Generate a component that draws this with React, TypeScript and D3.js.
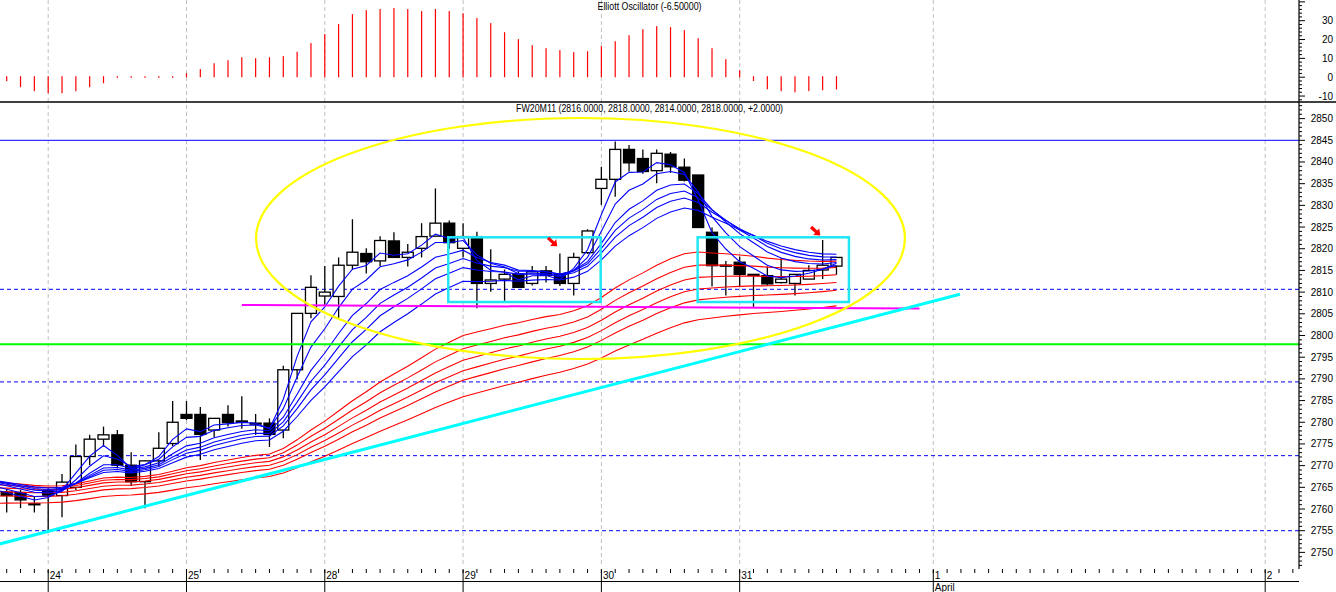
import React from 'react';
import * as d3 from 'd3';

const W = 1336;
const H = 592;

// ---------- data ----------
const opens = [2763.9, 2763.8, 2761.0, 2764.2, 2763.1, 2765.0, 2772.1, 2776.1, 2777.1, 2770.1,
  2766.3, 2771.1, 2775.1, 2781.8, 2781.8, 2778.2, 2781.8, 2780.0, 2779.8, 2779.8,
  2778.2, 2792.1, 2805.1, 2809.1, 2809.0, 2816.2, 2818.9, 2817.2, 2821.8, 2818.0,
  2820.1, 2822.9, 2825.9, 2820.1, 2822.8, 2812.0, 2813.0, 2814.2, 2812.0, 2814.9,
  2814.2, 2812.0, 2819.1, 2833.9, 2836.0, 2842.9, 2840.8, 2838.0, 2841.8, 2838.8,
  2837.0, 2823.8, 2816.0, 2816.9, 2814.1, 2813.8, 2812.2, 2812.0, 2813.0, 2815.1, 2816.0];
const highs = [2764.6, 2764.4, 2762.9, 2764.8, 2768.1, 2774.9, 2777.1, 2779.0, 2778.2, 2773.1,
  2771.1, 2777.7, 2784.9, 2784.9, 2783.5, 2780.9, 2783.9, 2786.0, 2781.9, 2780.9,
  2793.0, 2805.1, 2813.9, 2816.0, 2818.0, 2826.8, 2820.1, 2822.9, 2823.8, 2821.1,
  2825.9, 2833.9, 2826.5, 2825.9, 2823.9, 2819.9, 2815.2, 2814.8, 2816.0, 2816.0,
  2818.9, 2819.1, 2824.5, 2838.9, 2844.7, 2843.9, 2842.9, 2842.9, 2842.3, 2840.8,
  2837.0, 2824.9, 2817.2, 2818.2, 2814.1, 2815.9, 2817.8, 2814.1, 2816.2, 2822.0, 2818.0];
const lows = [2759.2, 2760.2, 2759.2, 2755.0, 2758.1, 2764.4, 2770.1, 2774.4, 2769.4, 2765.3,
  2760.2, 2769.8, 2774.5, 2780.5, 2771.3, 2776.6, 2779.0, 2778.5, 2777.1, 2774.3,
  2776.3, 2789.9, 2804.0, 2806.8, 2804.0, 2815.1, 2814.3, 2816.0, 2818.0, 2815.9,
  2818.0, 2822.9, 2820.0, 2818.0, 2806.3, 2810.1, 2808.0, 2811.1, 2811.5, 2812.2,
  2811.4, 2809.2, 2818.8, 2830.1, 2832.0, 2837.8, 2837.3, 2835.1, 2837.5, 2835.5,
  2824.9, 2811.3, 2809.2, 2811.3, 2806.6, 2811.5, 2812.0, 2809.2, 2813.0, 2813.0, 2814.0];
const closes = [2763.1, 2762.1, 2761.2, 2763.2, 2766.2, 2772.1, 2776.1, 2777.1, 2770.1, 2766.3,
  2771.1, 2774.0, 2780.0, 2780.9, 2777.2, 2780.9, 2779.9, 2780.3, 2779.6, 2777.2,
  2792.1, 2805.1, 2811.1, 2810.0, 2816.2, 2819.2, 2817.0, 2821.9, 2818.0, 2819.2,
  2822.8, 2825.9, 2821.4, 2822.8, 2812.0, 2812.8, 2814.1, 2811.1, 2814.7, 2813.9,
  2812.0, 2818.0, 2824.1, 2836.0, 2842.9, 2839.8, 2837.8, 2842.0, 2838.9, 2835.8,
  2824.9, 2816.1, 2816.2, 2814.1, 2814.0, 2811.9, 2813.0, 2814.1, 2815.0, 2816.2, 2818.0];

const oscValues = [-2.1, -5.3, -7.4, -8.5, -8.5, -7.4, -5.3, -3.2, -0.3, -0.3,
  -0.3, -0.3, -0.3, 2.1, 4.3, 7.4, 9.0, 10.6, 10.1, 10.6,
  11.2, 13.5, 18.1, 22.9, 28.2, 33.5, 35.6, 36.2, 36.7, 36.2,
  35.1, 36.2, 35.1, 34.0, 31.4, 28.7, 23.9, 20.2, 17.0, 15.4,
  14.4, 13.3, 13.8, 16.5, 19.1, 22.3, 25.5, 27.1, 26.6, 25.0,
  20.7, 15.4, 9.6, 3.7, -2.0, -6.4, -7.4, -8.0, -7.4, -6.9, -6.5];

const dayTickBars = [3, 13, 23, 33, 43, 53, 67, 91];
const dayTickLabels = ['24', '25', '28', '29', '30', '31', '1', '2'];
const monthLabels = [{ bar: 67, text: 'April' }];

const shortPeriods = [3, 5, 8, 10, 12, 15];
const shortSeeds = [2764.5, 2765.3, 2766.0, 2766.3, 2766.5, 2766.6];
const longPeriods = [30, 35, 40, 45, 50, 60];
const longSeeds = [2766.2, 2765.6, 2764.9, 2764.0, 2763.0, 2761.3];

const solidLevel = 2845;
const dashedLevels = [2810.65, 2789.3, 2772.3, 2755];
const greenLevel = 2798;
const priceLabels = [2850, 2845, 2840, 2835, 2830, 2825, 2820, 2815, 2810, 2805, 2800, 2795,
  2790, 2785, 2780, 2775, 2770, 2765, 2760, 2755, 2750];
const oscLabels = [30, 20, 10, 0, -10];

const trendBars = [-0.5, 68.93];
const trendValues = [2751.94, 2809.5];
const magentaBars = [17.0, 66.0];
const magentaValues = [2807.05, 2806.2];
const ellipseCenter = [41.49, 2822.36];
const ellipseRadius = [23.46, 27.78];
const boxBars = [[31.93, 42.95], [49.96, 60.9]];
const boxValues = [[2822.64, 2807.72], [2822.64, 2807.72]];
const arrowBars = [39.14, 58.16];
const arrowValues = [2822.5, 2825.0];

const titleMain = 'FW20M11 (2816.0000, 2818.0000, 2814.0000, 2818.0000, +2.0000)';
const titleOsc = 'Elliott Oscillator (-6.50000)';

// ---------- layout ----------
const AXIS_X = 1299;
const SEP_Y = 102;
const MAIN_BOTTOM = 568;
const FONT = '"Liberation Sans", Arial, sans-serif';

const x = d3.scaleLinear().domain([0, 91]).range([6.7, 1265.2]);
const y = d3.scaleLinear().domain([2845, 2755]).range([140.3, 530.7]);
const yo = d3.scaleLinear().domain([0, 30]).range([77.2, 20.7]);

function ema(period: number, seed: number) {
  const a = 2 / (period + 1);
  let e = seed;
  const out = [{ i: -1, v: seed }];
  closes.forEach((c, i) => {
    e = e + a * (c - e);
    out.push({ i, v: e });
  });
  return out;
}

const lineGen = d3.line<{ i: number; v: number }>().x(d => x(d.i)).y(d => y(d.v));

export default function App() {
  const shortLines = shortPeriods.map((p, k) => ema(p, shortSeeds[k]));
  const longLines = longPeriods.map((p, k) => ema(p, longSeeds[k]));

  const minorMain = d3.range(2747, 2854, 1);
  const minorOsc = d3.range(-12, 42, 2);
  const barTicks = d3.range(0, 94, 1);

  const ecx = x(ellipseCenter[0]);
  const ecy = y(ellipseCenter[1]);
  const erx = x(ellipseCenter[0] + ellipseRadius[0]) - ecx;
  const ery = y(ellipseCenter[1] - ellipseRadius[1]) - ecy;

  return (
    <svg width={W} height={H} style={{ position: 'absolute', left: 0, top: 0, background: '#fff' }}
      fontFamily={FONT}>
      <defs>
        <clipPath id="mainClip"><rect x={0} y={SEP_Y + 1} width={AXIS_X} height={MAIN_BOTTOM - SEP_Y - 1} /></clipPath>
        <clipPath id="oscClip"><rect x={0} y={0} width={AXIS_X} height={SEP_Y} /></clipPath>
      </defs>
      <rect x={0} y={0} width={W} height={H} fill="#fff" />

      {/* day separators */}
      {dayTickBars.map((b, k) => (
        <line key={'g' + k} x1={x(b)} x2={x(b)} y1={0} y2={567} stroke="#c0c0c0" strokeWidth={1} strokeDasharray="4,3" />
      ))}

      {/* oscillator */}
      <g clipPath="url(#oscClip)">
        {oscValues.map((v, i) => {
          const base = v >= 0 ? yo(0) : yo(0) - 1;
          const yv = yo(v);
          let top = Math.min(base, yv);
          let h = Math.abs(yv - base);
          if (h < 1) { h = 1; top = base - 0.5; }
          return <rect key={'o' + i} x={x(i) - 0.6} y={top} width={1.2} height={h} fill="#ff0000" />;
        })}
      </g>
      <text x={AXIS_X / 2} y={10} fontSize={10} textAnchor="middle" fill="#000"
        textLength={104} lengthAdjust="spacingAndGlyphs">{titleOsc}</text>

      {/* separator */}
      <line x1={0} x2={W} y1={SEP_Y} y2={SEP_Y} stroke="#000" strokeWidth={1.5} />
      <text x={AXIS_X / 2} y={112} fontSize={10} textAnchor="middle" fill="#000"
        textLength={267} lengthAdjust="spacingAndGlyphs">{titleMain}</text>

      <g clipPath="url(#mainClip)">
        {/* horizontal levels */}
        <line x1={0} x2={AXIS_X} y1={y(solidLevel)} y2={y(solidLevel)} stroke="#0000ff" strokeWidth={1} />
        {dashedLevels.map((lv, k) => (
          <line key={'d' + k} x1={0} x2={AXIS_X} y1={y(lv)} y2={y(lv)} stroke="#0000ff" strokeWidth={1} strokeDasharray="4,3" />
        ))}

        {/* candles */}
        {closes.map((c, i) => {
          const o = opens[i];
          const cx = x(i);
          const top = y(Math.max(o, c));
          const bh = Math.max(1, Math.abs(y(o) - y(c)));
          const black = o > c;
          return (
            <g key={'c' + i}>
              <line x1={cx} x2={cx} y1={y(highs[i])} y2={y(lows[i])} stroke="#000" strokeWidth={1.3} />
              <rect x={cx - 5.5} y={top} width={11} height={bh} fill={black ? '#000' : '#fff'} stroke="#000" strokeWidth={1.3} />
            </g>
          );
        })}

        {/* moving averages */}
        {longLines.map((ln, k) => (
          <path key={'r' + k} d={lineGen(ln) || ''} fill="none" stroke="#ff0000" strokeWidth={1.1} />
        ))}
        {shortLines.map((ln, k) => (
          <path key={'b' + k} d={lineGen(ln) || ''} fill="none" stroke="#0000ff" strokeWidth={1.1} />
        ))}

        <line x1={0} x2={AXIS_X} y1={y(greenLevel)} y2={y(greenLevel)} stroke="#00ff00" strokeWidth={2} />

        {/* annotations */}
        <line x1={x(magentaBars[0])} x2={x(magentaBars[1])} y1={y(magentaValues[0])} y2={y(magentaValues[1])}
          stroke="#ff00ff" strokeWidth={2} />
        <line x1={x(trendBars[0])} x2={x(trendBars[1])} y1={y(trendValues[0])} y2={y(trendValues[1])}
          stroke="#00ffff" strokeWidth={3} />
        <ellipse cx={ecx} cy={ecy} rx={erx} ry={ery} fill="none" stroke="#ffff00" strokeWidth={2.2} />
        {boxBars.map((bb, k) => (
          <rect key={'bx' + k} x={x(bb[0])} y={y(boxValues[k][0])} width={x(bb[1]) - x(bb[0])}
            height={y(boxValues[k][1]) - y(boxValues[k][0])} fill="none" stroke="#22e6f6" strokeWidth={2.5} />
        ))}
        {arrowBars.map((b, k) => (
          <polygon key={'ar' + k} transform={`translate(${x(b)},${y(arrowValues[k])}) rotate(42)`}
            points="0,-1.6 7,-1.6 7,-4.5 12.5,0 7,4.5 7,1.6 0,1.6" fill="#ff0000" />
        ))}
      </g>

      {/* right axis */}
      <line x1={AXIS_X} x2={AXIS_X} y1={0} y2={569} stroke="#000" strokeWidth={1.2} />
      {minorOsc.map(v => (
        <line key={'mo' + v} x1={AXIS_X} x2={AXIS_X + (v % 10 === 0 ? 6 : 3)} y1={yo(v)} y2={yo(v)} stroke="#000" strokeWidth={1} />
      ))}
      {oscLabels.map(v => (
        <text key={'ol' + v} x={1333} y={yo(v) + 3.5} fontSize={10} textAnchor="end" fill="#000">{v}</text>
      ))}
      {minorMain.map(v => (
        <line key={'mm' + v} x1={AXIS_X} x2={AXIS_X + (v % 5 === 0 ? 6 : 3)} y1={y(v)} y2={y(v)} stroke="#000" strokeWidth={1} />
      ))}
      {priceLabels.map(v => (
        <text key={'pl' + v} x={1333} y={y(v) + 3.5} fontSize={10} textAnchor="end" fill="#000">{v}</text>
      ))}

      {/* bottom axis */}
      {barTicks.map(i => (
        <line key={'bt' + i} x1={x(i)} x2={x(i)} y1={569} y2={573} stroke="#000" strokeWidth={1} />
      ))}
      {dayTickBars.map((b, k) => (
        <g key={'dt' + k}>
          <line x1={x(b)} x2={x(b)} y1={570} y2={592} stroke="#000" strokeWidth={1} />
          <text x={x(b) + 1.5} y={579} fontSize={10} fill="#000">{dayTickLabels[k]}</text>
        </g>
      ))}
      {monthLabels.map((m, k) => (
        <text key={'ml' + k} x={x(m.bar) + 1.5} y={591} fontSize={10} fill="#000">{m.text}</text>
      ))}
      <line x1={0} x2={AXIS_X} y1={581.5} y2={581.5} stroke="#000" strokeWidth={1.2} />
    </svg>
  );
}
